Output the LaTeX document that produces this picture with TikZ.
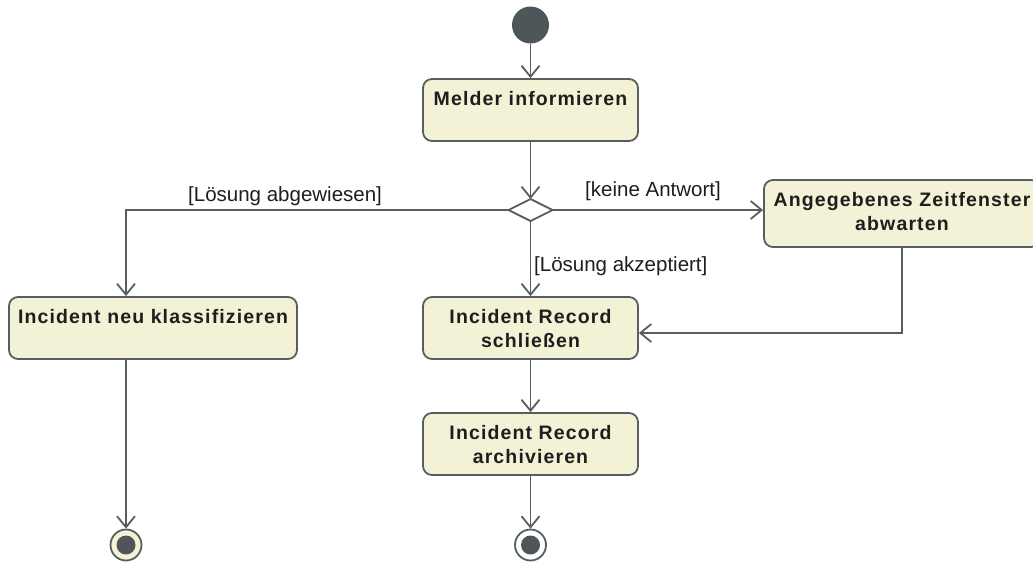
\documentclass[tikz,border=0pt]{standalone}
\usepackage{fontspec}
\setmainfont{Liberation Sans}
\newfontfamily\boxfont[LetterSpace=5.8]{Liberation Sans Bold}
\usetikzlibrary{arrows.meta}
\definecolor{linegray}{RGB}{88,94,96}
\definecolor{boxfill}{RGB}{244,242,214}
\definecolor{txt}{RGB}{30,30,30}
\definecolor{dotfill}{RGB}{78,86,89}
\newcommand{\acttext}[3]{\parbox[c][#2pt][t]{#1pt}{\centering\boxfont\fontsize{19.5}{24}\selectfont\color{txt}\rule{0pt}{26pt}#3\par}}
\tikzset{
  act/.style={draw=linegray, fill=boxfill, line width=1.8pt, rounded corners=9pt, inner sep=0pt},
  flow/.style={draw=linegray, line width=1.8pt, -{Straight Barb[length=11pt,width=18pt,line width=1.8pt]}},
  guard/.style={font=\fontsize{20.5}{24}\selectfont, text=txt, inner sep=0pt, anchor=base west},
  startdot/.style={circle, fill=dotfill, minimum size=37pt, inner sep=0pt},
  endring/.style={circle, draw=linegray, line width=1.8pt, minimum size=31pt, inner sep=0pt},
  enddot/.style={circle, fill=dotfill, minimum size=19pt, inner sep=0pt},
  decision/.style={draw=linegray, fill=white, line width=1.8pt}
}
\begin{document}
\begin{tikzpicture}[x=1pt,y=-1pt]
\useasboundingbox (0,0) rectangle (1033,562);
% start
\node[startdot] (start) at (530.5,25) {};
% activities
\node[act] (melder) at (530.5,110) {\acttext{215}{62}{Melder informieren}};
\node[act] (neu) at (153,328) {\acttext{288}{62}{Incident neu klassifizieren}};
\node[act] (schl) at (530.5,328) {\acttext{215}{62}{Incident Record\\schließen}};
\node[act] (arch) at (530.5,444) {\acttext{215}{62}{Incident Record\\archivieren}};
\node[act] (zeit) at (902,213.5) {\acttext{276}{67}{Angegebenes Zeitfenster\\abwarten}};
% decision
\path[decision] (508.5,210) coordinate (dw) -- (530.5,199) coordinate (dn) -- (552.5,210) coordinate (de) -- (530.5,221) coordinate (ds) -- cycle;
% finals
\node[endring, fill=boxfill] (end1) at (126,545) {};
\node[enddot] at (end1) {};
\node[endring, fill=white] (end2) at (530.5,545) {};
\node[enddot] at (end2) {};
% connectors
\coordinate (lcol) at (126,0);
\draw[flow] (start) -- (melder);
\draw[flow] (melder) -- (dn);
\draw[flow] (dw) -| (neu.north -| lcol);
\draw[flow] (de) -- (zeit.west |- de);
\draw[flow] (ds) -- (schl);
\coordinate (bend) at (902,333);
\draw[flow] (zeit.south) -- (bend) -- (schl.east |- bend);
\draw[flow] (schl) -- (arch);
\draw[flow] (arch) -- (end2);
\draw[flow] (neu.south -| lcol) -- (end1);
% guards
\node[guard] at (188,201) {[Lösung abgewiesen]};
\node[guard] at (585,196) {[keine Antwort]};
\node[guard] at (534,271) {[Lösung akzeptiert]};
\end{tikzpicture}
\end{document}
